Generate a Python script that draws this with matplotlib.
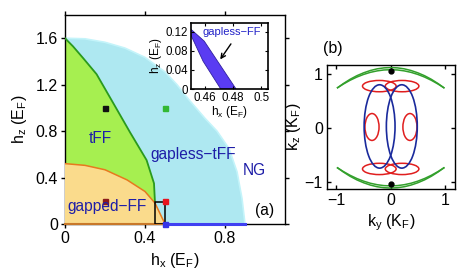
import numpy as np
import matplotlib
matplotlib.use("Agg")
import matplotlib.pyplot as plt
from matplotlib.patches import Ellipse, Rectangle, Polygon

plt.rcParams['font.family'] = ['Liberation Sans', 'DejaVu Sans']
plt.rcParams['mathtext.fontset'] = 'custom'
plt.rcParams['mathtext.rm'] = 'Liberation Sans'
plt.rcParams['mathtext.it'] = 'Liberation Sans'
plt.rcParams['mathtext.default'] = 'regular'

# ---------------- panel (a) data ----------------
outer_hx = [0, 0.1, 0.2, 0.3, 0.4, 0.5, 0.56, 0.62, 0.7, 0.76, 0.82, 0.86, 0.885, 0.9]
outer_hz = [1.6, 1.595, 1.565, 1.515, 1.435, 1.31, 1.2, 1.07, 0.91, 0.8, 0.65, 0.45, 0.22, 0]
tff_hx = [0, 0.04, 0.09, 0.158, 0.25, 0.325, 0.408, 0.445, 0.45, 0.45]
tff_hz = [1.6, 1.53, 1.43, 1.29, 1.015, 0.79, 0.55, 0.35, 0.18, 0]
gap_hx = [0, 0.1, 0.2, 0.31, 0.4, 0.45, 0.5]
gap_hz = [0.52, 0.505, 0.467, 0.38, 0.28, 0.18, 0]
gaplessff_hx = [0.5, 0.9]
gaplessff_hz = [0, 0]
marker_hx = [0.2, 0.5, 0.2, 0.5, 0.5]
marker_hz = [1.0, 1.0, 0.2, 0.2, 0.0]
marker_colors = ['#111111', '#33B833', '#8B1A1A', '#E8141E', '#3535E8']
box_hx = [0.45, 0.5]
box_hz = [0, 0.19]
a_xticks = [0, 0.4, 0.8]
a_xticklabels = ['0', '0.4', '0.8']
a_yticks = [0, 0.4, 0.8, 1.2, 1.6]
a_yticklabels = ['0', '0.4', '0.8', '1.2', '1.6']

# inset data
ins_hx = [0.45, 0.4595, 0.482, 0.4712, 0.4587, 0.45]
ins_hz = [0.125, 0.10, 0, 0, 0.058, 0.113]
ins_xticks = [0.46, 0.48, 0.5]
ins_xticklabels = ['0.46', '0.48', '0.5']
ins_yticks = [0, 0.04, 0.08, 0.12]
ins_yticklabels = ['0', '0.04', '0.08', '0.12']

# ---------------- panel (b) data ----------------
g_x = [-0.98, -0.875, -0.75, -0.625, -0.5, -0.375, -0.25, -0.125, 0,
       0.125, 0.25, 0.375, 0.5, 0.625, 0.75, 0.875, 0.98]
g_top_outer = [0.745, 0.821, 0.901, 0.968, 1.022, 1.065, 1.096, 1.114, 1.12,
               1.114, 1.096, 1.065, 1.022, 0.968, 0.901, 0.821, 0.745]
g_top_inner = [0.745, 0.812, 0.883, 0.943, 0.992, 1.031, 1.058, 1.075, 1.08,
               1.075, 1.058, 1.031, 0.992, 0.943, 0.883, 0.812, 0.745]
g_bot_outer = [-0.745, -0.821, -0.901, -0.968, -1.022, -1.065, -1.096, -1.114, -1.12,
               -1.114, -1.096, -1.065, -1.022, -0.968, -0.901, -0.821, -0.745]
g_bot_inner = [-0.745, -0.812, -0.883, -0.943, -0.992, -1.031, -1.058, -1.075, -1.08,
               -1.075, -1.058, -1.031, -0.992, -0.943, -0.883, -0.812, -0.745]
red_cx = [-0.345, 0.355, -0.21, 0.21, -0.21, 0.21]
red_cy = [0.015, 0.015, 0.775, 0.775, -0.765, -0.765]
red_w = [0.26, 0.26, 0.62, 0.62, 0.62, 0.62]
red_h = [0.5, 0.5, 0.21, 0.21, 0.21, 0.21]
blue_cx = [-0.205, 0.205]
blue_cy = [0.025, 0.025]
blue_w = [0.57, 0.57]
blue_h = [1.55, 1.55]
dot_ky = [0, 0]
dot_kz = [1.055, -1.05]
b_ticks = [-1, 0, 1]
b_ticklabels = ['\u22121', '0', '1']

W, H = 471, 277
fig = plt.figure(figsize=(W / 100, H / 100), dpi=100)

def pos(l, t, r, b):
    return [l / W, 1 - b / H, (r - l) / W, (b - t) / H]

FS = 11.5
txtc = '#1E1EA8'
# ---------- panel (a) ----------
ax = fig.add_axes(pos(65, 15, 285, 224))
ax.set_xlim(0, 1.1)
ax.set_ylim(0, 1.8)
ax.fill(list(outer_hx) + [0], list(outer_hz) + [0], facecolor='#AEE8F1',
        edgecolor='#C4F4FA', lw=1.2, zorder=1)
ax.fill(list(tff_hx) + [0], list(tff_hz) + [0], facecolor='#A6EF50',
        edgecolor='none', zorder=2)
ax.fill(list(gap_hx) + [0], list(gap_hz) + [0], facecolor='#FADB8C',
        edgecolor='none', zorder=3)
ax.plot(tff_hx[:-1], tff_hz[:-1], color='#2A9A1E', lw=1.3, zorder=4)
ax.plot(gap_hx, gap_hz, color='#E8791E', lw=1.1, zorder=5)
ax.plot([gap_hx[0], gap_hx[-1]], [0, 0], color='#C8782A', lw=1.5, zorder=6, clip_on=False)
ax.plot(gaplessff_hx, gaplessff_hz, color='#4040F2', lw=2.2, zorder=6, clip_on=False)
ax.add_patch(Rectangle((box_hx[0], box_hz[0]), box_hx[1] - box_hx[0],
                       box_hz[1] - box_hz[0], fill=False, ec='k', lw=1.1, zorder=7))
for x, y, c in zip(marker_hx, marker_hz, marker_colors):
    ax.plot(x, y, 's', ms=3.6, mfc=c, mec=c, zorder=8, clip_on=False)
ax.text(0.12, 0.74, 'tFF', color=txtc, fontsize=11.2, va='center', zorder=9)
ax.text(0.425, 0.6, 'gapless\u2212tFF', color=txtc, fontsize=11.2, va='center', zorder=9)
ax.text(0.89, 0.46, 'NG', color=txtc, fontsize=11.2, va='center', zorder=9)
ax.text(0.012, 0.15, 'gapped\u2212FF', color=txtc, fontsize=11.2, va='center', zorder=9)
ax.text(0.95, 0.12, '(a)', color='k', fontsize=11.2, va='center', zorder=9)
ax.set_xticks(a_xticks)
ax.set_xticklabels(a_xticklabels)
ax.set_yticks(a_yticks)
ax.set_yticklabels(a_yticklabels)
ax.tick_params(direction='out', top=True, right=True, length=3, width=1,
               labelsize=FS, pad=2)
for s in ax.spines.values():
    s.set_linewidth(1.0)
ax.set_xlabel('h$_x$ (E$_F$)', fontsize=FS, labelpad=4)
ax.set_ylabel('h$_z$ (E$_F$)', fontsize=FS, labelpad=5)

# ---------- inset ----------
axi = fig.add_axes(pos(190.8, 22.7, 267.7, 89))
axi.set_xlim(0.45, 0.5044)
axi.set_ylim(0, 0.1385)
axi.add_patch(Polygon(np.column_stack([ins_hx, ins_hz]), closed=True,
                      facecolor='#5A3CF2', edgecolor='#3020A0', lw=0.6))
axi.text(0.4586, 0.119, 'gapless\u2212FF', color='#2222C8', fontsize=8, va='center')
axi.annotate('', xy=(0.4697, 0.057), xytext=(0.4795, 0.099),
             arrowprops=dict(arrowstyle='->', color='k', lw=1.0, mutation_scale=8))
axi.set_xticks(ins_xticks)
axi.set_xticklabels(ins_xticklabels)
axi.set_yticks(ins_yticks)
axi.set_yticklabels(ins_yticklabels)
axi.tick_params(direction='in', top=True, right=True, length=2, width=0.8,
                labelsize=8.3, pad=2)
for s in axi.spines.values():
    s.set_linewidth(1.2)
axi.set_xlabel('h$_x$ (E$_F$)', fontsize=8.5, labelpad=0)
axi.set_ylabel('h$_z$ (E$_F$)', fontsize=8.5, labelpad=1)

# ---------- panel (b) ----------
bx = fig.add_axes(pos(327, 64.7, 455, 189))
bx.set_xlim(-1.175, 1.186)
bx.set_ylim(-1.138, 1.173)
gc = '#33A02C'
bx.plot(g_x, g_top_outer, color=gc, lw=1.1)
bx.plot(g_x, g_top_inner, color=gc, lw=1.1)
bx.plot(g_x, g_bot_outer, color=gc, lw=1.1)
bx.plot(g_x, g_bot_inner, color=gc, lw=1.1)
for cx, cy, w, h in zip(red_cx, red_cy, red_w, red_h):
    bx.add_patch(Ellipse((cx, cy), w, h, fill=False, ec='#E01E1E', lw=1.1))
for cx, cy, w, h in zip(blue_cx, blue_cy, blue_w, blue_h):
    bx.add_patch(Ellipse((cx, cy), w, h, fill=False, ec='#1A2A9C', lw=1.2))
bx.plot(dot_ky, dot_kz, 'o', ms=3.5, color='k')
bx.set_xticks(b_ticks)
bx.set_xticklabels(b_ticklabels)
bx.set_yticks(b_ticks)
bx.set_yticklabels(b_ticklabels)
bx.tick_params(direction='in', top=True, right=True, length=3, width=1,
               labelsize=FS, pad=3)
for s in bx.spines.values():
    s.set_linewidth(1.0)
bx.set_xlabel('k$_y$ (K$_F$)', fontsize=FS, labelpad=3)
bx.set_ylabel('k$_z$ (K$_F$)', fontsize=FS, labelpad=1)
fig.text(333 / W, 1 - 48 / H, '(b)', fontsize=FS, ha='center', va='center')

fig.savefig('out.png', dpi=100)
